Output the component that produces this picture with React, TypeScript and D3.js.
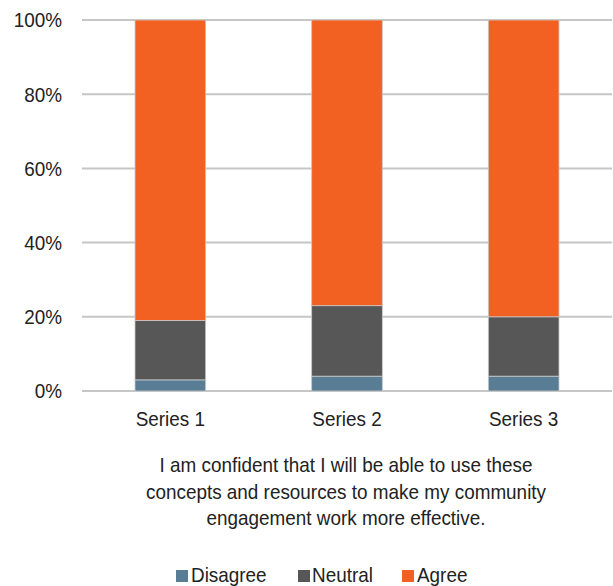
import React from "react";
import * as d3 from "d3";

const categories = ["Series 1", "Series 2", "Series 3"];
const seriesNames = ["Disagree", "Neutral", "Agree"];
const disagree = [3, 4, 4];
const neutral = [16, 19, 16];
const agree = [81, 77, 80];
const yTicks = [0, 0.2, 0.4, 0.6, 0.8, 1.0];
const titleLines = [
  "I am confident that I will be able to use these",
  "concepts and resources to make my community",
  "engagement work more effective.",
];
const colors = ["#5a7d96", "#575757", "#f26122"];

const W = 613;
const H = 586;
const FONT = "'Liberation Sans', Arial, sans-serif";
const SX = 0.9;

function T(props: { x: number; y: number; anchor?: string; dy?: string; children: React.ReactNode }) {
  return (
    <text
      transform={`translate(${props.x},${props.y}) scale(${SX},1)`}
      textAnchor={props.anchor || "start"}
      dy={props.dy}
      fontSize={21}
      fill="#222"
    >
      {props.children}
    </text>
  );
}

export default function App() {
  const plotLeft = 82;
  const plotRight = 612;
  const plotTop = 20;
  const plotBottom = 391;

  const x = d3.scaleBand<string>().domain(categories).range([plotLeft, plotRight]).paddingInner(0.6).paddingOuter(0.3);
  const y = d3.scaleLinear().domain([0, 1]).range([plotBottom, plotTop]);

  const rows = categories.map((c, i) => {
    const total = disagree[i] + neutral[i] + agree[i];
    return {
      cat: c,
      Disagree: disagree[i] / total,
      Neutral: neutral[i] / total,
      Agree: agree[i] / total,
    };
  });
  const stacked = d3.stack<any>().keys(seriesNames)(rows);
  const fmt = d3.format(".0%");

  const legendItems = [
    { name: "Disagree", sq: 176, tx: 191 },
    { name: "Neutral", sq: 298, tx: 312 },
    { name: "Agree", sq: 402, tx: 417 },
  ];

  return (
    <svg width={W} height={H} style={{ position: "absolute", left: 0, top: 0, background: "#fff" }} fontFamily={FONT}>
      <rect x={0} y={0} width={W} height={H} fill="#fff" />
      {yTicks.map((t) => (
        <g key={t}>
          <line x1={plotLeft} x2={plotRight} y1={y(t)} y2={y(t)} stroke="#c6c6c6" strokeWidth={2} />
          <T x={62} y={y(t)} dy="0.35em" anchor="end">
            {fmt(t)}
          </T>
        </g>
      ))}
      {stacked.map((s, si) => (
        <g key={s.key} fill={colors[si]}>
          {s.map((d: any) => (
            <rect
              key={d.data.cat}
              x={x(d.data.cat)}
              width={x.bandwidth()}
              y={y(d[1])}
              height={y(d[0]) - y(d[1])}
              stroke="#c8c8c8"
              strokeWidth={0.8}
            />
          ))}
        </g>
      ))}
      {categories.map((c) => (
        <T key={c} x={(x(c) as number) + x.bandwidth() / 2} y={426} anchor="middle">
          {c}
        </T>
      ))}
      {titleLines.map((l, i) => (
        <T key={i} x={346} y={472 + i * 26.5} anchor="middle">
          {l}
        </T>
      ))}
      {legendItems.map((it, i) => (
        <g key={it.name}>
          <rect x={it.sq} y={570} width={12} height={12} fill={colors[i]} />
          <T x={it.tx} y={582}>
            {it.name}
          </T>
        </g>
      ))}
    </svg>
  );
}
